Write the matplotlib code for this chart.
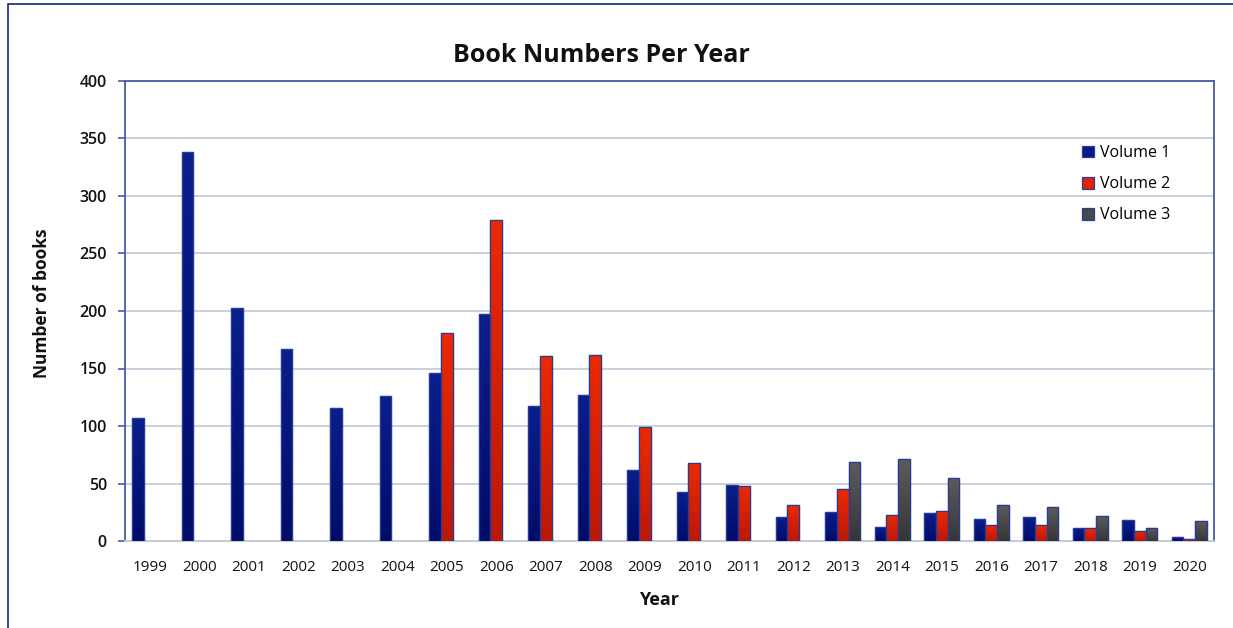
import numpy as np
import matplotlib
matplotlib.use("Agg")
import matplotlib.pyplot as plt
from matplotlib.patches import Rectangle
from matplotlib.colors import LinearSegmentedColormap

# data
years = [str(y) for y in range(1999, 2021)]
volume1 = [107, 338, 203, 167, 116, 126, 146, 197, 117, 127, 62, 43,
           49, 21, 25, 12, 24, 19, 21, 11, 18, 3.5]
volume2 = [0, 0, 0, 0, 0, 0, 181, 279, 161, 162, 99, 68,
           48, 31, 45, 23, 26, 14, 14, 11, 9, 2]
volume3 = [0, 0, 0, 0, 0, 0, 0, 0, 0, 0, 0, 0,
           0, 0, 69, 71, 55, 31, 30, 22, 11, 17]
series_names = ["Volume 1", "Volume 2", "Volume 3"]

plt.rcParams['font.family'] = ['Open Sans', 'DejaVu Sans']

W, H = 1233, 628
fig = plt.figure(figsize=(W / 100, H / 100), dpi=100)
ax = fig.add_axes([125 / W, 1 - 541 / H, (1214 - 125) / W, (541 - 81) / H])

# outer chart frame
fig.patches.append(Rectangle((8 / W, -0.1), 1.2, 1 - 4 / H + 0.1,
                             transform=fig.transFigure, fill=False,
                             edgecolor='#1a2580', lw=1.2))

x = np.arange(len(years))
bw = 0.236
colors = ['#06188a', '#e02200', '#4a4a4a']
grads = [('#0a1f8c', '#000c68'), ('#ec2a00', '#bc1808'), ('#5c5c5c', '#363636')]
edge = '#2b3a96'
for k, (vals, c, g, name) in enumerate(zip([volume1, volume2, volume3], colors,
                                            grads, series_names)):
    vals = np.array(vals, dtype=float)
    keep = vals > 0
    bars = ax.bar(x[keep] + (k - 1) * bw, vals[keep], width=bw, color=c,
                  edgecolor=edge, linewidth=0.9, label=name, zorder=3)
    cmap = LinearSegmentedColormap.from_list('g%d' % k, [g[1], g[0]])
    for b in bars:
        x0, y0 = b.get_x(), b.get_y()
        im = ax.imshow(np.linspace(0, 1, 64).reshape(-1, 1), cmap=cmap,
                       origin='lower', aspect='auto', zorder=3.5,
                       extent=(x0, x0 + b.get_width(), y0, y0 + b.get_height()))
        im.set_clip_path(b)
    for b in bars:
        ax.add_patch(Rectangle((b.get_x(), b.get_y()), b.get_width(), b.get_height(),
                               fill=False, edgecolor=edge, lw=0.9, zorder=4))

ax.set_xlim(-0.5, len(years) - 0.5)
ax.set_ylim(0, 400)
ax.set_yticks(range(0, 401, 50))
ax.set_xticks(x)
ax.set_xticklabels(years)
ax.yaxis.grid(True, color='#c6cedb', lw=1.3, zorder=0)
ax.set_axisbelow(True)

for s in ['left', 'top', 'right']:
    ax.spines[s].set_color('#4a5aa8')
    ax.spines[s].set_linewidth(1.3)
ax.spines['bottom'].set_color('#c0c8d6')
ax.spines['bottom'].set_linewidth(1.3)

ax.tick_params(axis='y', direction='out', length=5, width=1.2, color='#4a5aa8',
               labelsize=11.5, labelcolor='#111111', pad=8)
ax.tick_params(axis='x', length=0, labelsize=11, labelcolor='#111111', pad=14)
for t in ax.get_yticklabels():
    t.set_fontweight('semibold')
for t in ax.get_xticklabels():
    t.set_fontweight('medium')

leg = ax.legend(loc='upper left', bbox_to_anchor=(0.866, 0.892), frameon=False,
                handlelength=0.75, handleheight=0.75, handletextpad=0.35,
                labelspacing=0.95, fontsize=11.5)
for t in leg.get_texts():
    t.set_fontweight('medium')

fig.text(601 / W, 1 - 55 / H, "Book Numbers Per Year", ha='center', va='center',
         fontsize=18, fontweight='bold', color='#111111')
fig.text(659 / W, 1 - 600 / H, "Year", ha='center', va='center',
         fontsize=13, fontweight='bold', color='#111111')
fig.text(42 / W, 1 - 303 / H, "Number of books", ha='center', va='center',
         rotation=90, fontsize=12.5, fontweight='bold', color='#111111')

fig.savefig("out.png", dpi=100)
